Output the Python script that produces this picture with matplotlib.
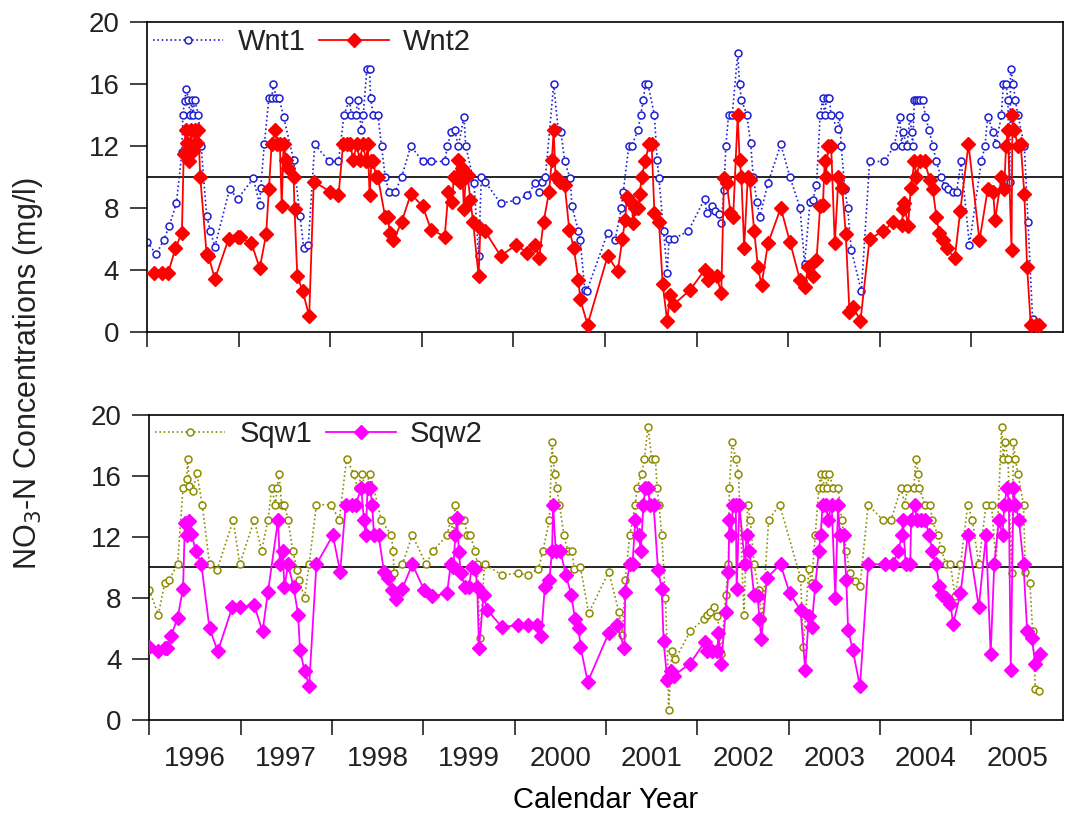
import matplotlib
matplotlib.use("Agg")
import matplotlib.pyplot as plt
from matplotlib.ticker import FixedLocator, NullFormatter

plt.rcParams["font.family"] = ["Liberation Sans", "DejaVu Sans"]
plt.rcParams["text.color"] = "#222222"
plt.rcParams["xtick.color"] = "#222222"
plt.rcParams["ytick.color"] = "#222222"

# ==========================
# Dados
# ==========================
years = list(range(1996, 2006))

wnt1_t = [1996.00, 1996.10, 1996.18, 1996.24, 1996.32, 1996.38, 1996.39, 1996.41, 1996.43, 1996.45,
          1996.47, 1996.49, 1996.50, 1996.52, 1996.56, 1996.59, 1996.65, 1996.69, 1996.74, 1996.90,
          1996.99, 1997.16, 1997.23, 1997.24, 1997.28, 1997.33, 1997.36, 1997.38, 1997.41, 1997.44,
          1997.49, 1997.60, 1997.67, 1997.71, 1997.76, 1997.83, 1997.99, 1998.09, 1998.15, 1998.21,
          1998.23, 1998.28, 1998.30, 1998.34, 1998.36, 1998.40, 1998.43, 1998.44, 1998.47, 1998.52,
          1998.56, 1998.60, 1998.64, 1998.71, 1998.78, 1998.88, 1999.01, 1999.10, 1999.25, 1999.28,
          1999.32, 1999.36, 1999.40, 1999.46, 1999.48, 1999.57, 1999.62, 1999.65, 1999.69, 1999.86,
          2000.03, 2000.15, 2000.24, 2000.28, 2000.31, 2000.35, 2000.44, 2000.49, 2000.52, 2000.56,
          2000.62, 2000.64, 2000.71, 2000.73, 2000.78, 2000.80, 2001.03, 2001.11, 2001.18, 2001.20,
          2001.26, 2001.29, 2001.36, 2001.39, 2001.42, 2001.44, 2001.47, 2001.54, 2001.57, 2001.59,
          2001.64, 2001.68, 2001.70, 2001.75, 2001.91, 2002.09, 2002.11, 2002.17, 2002.20, 2002.24,
          2002.27, 2002.30, 2002.32, 2002.35, 2002.39, 2002.45, 2002.47, 2002.49, 2002.55, 2002.59,
          2002.62, 2002.66, 2002.69, 2002.78, 2002.92, 2003.02, 2003.13, 2003.18, 2003.24, 2003.27,
          2003.31, 2003.35, 2003.38, 2003.40, 2003.42, 2003.45, 2003.47, 2003.54, 2003.56, 2003.58,
          2003.62, 2003.65, 2003.69, 2003.80, 2003.89, 2004.05, 2004.16, 2004.22, 2004.24, 2004.25,
          2004.30, 2004.33, 2004.35, 2004.36, 2004.38, 2004.40, 2004.42, 2004.44, 2004.47, 2004.50,
          2004.54, 2004.58, 2004.62, 2004.67, 2004.71, 2004.75, 2004.80, 2004.84, 2004.89, 2004.98,
          2005.11, 2005.15, 2005.18, 2005.24, 2005.27, 2005.33, 2005.35, 2005.38, 2005.40, 2005.42,
          2005.43, 2005.46, 2005.48, 2005.51, 2005.58, 2005.62, 2005.67]
wnt1_v = [5.8, 5.0, 5.9, 6.8, 8.3, 11.6, 14.0, 14.9, 15.7, 15.0,
          14.0, 15.0, 14.0, 15.0, 14.0, 12.0, 7.5, 6.5, 5.5, 9.2,
          8.6, 9.9, 8.2, 9.3, 12.1, 15.1, 15.1, 16.0, 15.1, 15.1,
          13.9, 11.1, 7.5, 5.4, 5.6, 12.1, 11.0, 11.0, 14.0, 15.0,
          14.0, 14.0, 15.0, 13.0, 14.0, 17.0, 17.0, 15.1, 14.0, 14.0,
          12.0, 10.0, 9.05, 9.05, 10.0, 12.0, 11.0, 11.0, 11.0, 12.0,
          12.9, 13.0, 12.0, 13.9, 12.0, 9.6, 4.9, 10.0, 9.7, 8.3,
          8.5, 8.8, 9.6, 9.05, 9.7, 10.0, 16.0, 13.0, 12.9, 11.0,
          9.9, 8.1, 6.5, 5.9, 2.7, 2.6, 6.4, 5.9, 8.0, 9.05,
          12.0, 12.0, 13.0, 14.0, 15.0, 16.0, 16.0, 14.0, 11.1, 9.9,
          6.5, 3.8, 6.0, 6.0, 6.5, 8.6, 7.7, 8.1, 7.8, 7.6,
          7.0, 9.15, 12.0, 14.0, 14.0, 18.0, 16.0, 15.0, 14.0, 12.2,
          10.0, 8.4, 7.4, 9.6, 12.1, 10.0, 8.0, 4.4, 8.4, 8.5,
          9.5, 14.0, 15.1, 14.0, 15.1, 15.1, 14.0, 13.1, 14.0, 12.0,
          9.2, 8.0, 5.3, 2.6, 11.0, 11.0, 12.0, 13.9, 12.0, 12.9,
          12.0, 13.9, 12.9, 12.0, 15.0, 15.0, 15.0, 15.0, 15.0, 13.9,
          13.0, 12.0, 11.0, 10.0, 9.4, 9.2, 9.05, 9.05, 11.0, 5.6,
          11.0, 12.0, 13.9, 12.9, 12.1, 14.0, 16.0, 16.0, 15.0, 9.7,
          17.0, 16.0, 15.0, 14.0, 12.0, 7.1, 0.8]

wnt2_t = [1996.07, 1996.16, 1996.23, 1996.31, 1996.38, 1996.40, 1996.42, 1996.44, 1996.46, 1996.48,
          1996.50, 1996.52, 1996.54, 1996.56, 1996.58, 1996.65, 1996.67, 1996.74, 1996.89, 1996.99,
          1997.01, 1997.14, 1997.23, 1997.30, 1997.33, 1997.36, 1997.40, 1997.42, 1997.45, 1997.47,
          1997.49, 1997.52, 1997.54, 1997.60, 1997.61, 1997.64, 1997.70, 1997.77, 1997.82, 1998.00,
          1998.09, 1998.14, 1998.18, 1998.22, 1998.25, 1998.29, 1998.32, 1998.36, 1998.39, 1998.41,
          1998.43, 1998.45, 1998.47, 1998.50, 1998.52, 1998.60, 1998.63, 1998.65, 1998.69, 1998.78,
          1998.88, 1999.01, 1999.10, 1999.25, 1999.29, 1999.33, 1999.35, 1999.38, 1999.40, 1999.42,
          1999.44, 1999.46, 1999.48, 1999.50, 1999.53, 1999.56, 1999.62, 1999.64, 1999.69, 1999.86,
          2000.03, 2000.15, 2000.24, 2000.28, 2000.33, 2000.39, 2000.42, 2000.44, 2000.46, 2000.51,
          2000.56, 2000.61, 2000.66, 2000.71, 2000.73, 2000.81, 2001.03, 2001.14, 2001.19, 2001.22,
          2001.24, 2001.29, 2001.31, 2001.33, 2001.36, 2001.38, 2001.40, 2001.44, 2001.48, 2001.51,
          2001.54, 2001.59, 2001.63, 2001.68, 2001.71, 2001.75, 2001.93, 2002.09, 2002.13, 2002.16,
          2002.22, 2002.27, 2002.30, 2002.33, 2002.37, 2002.40, 2002.45, 2002.47, 2002.49, 2002.52,
          2002.56, 2002.58, 2002.63, 2002.67, 2002.71, 2002.78, 2002.92, 2003.02, 2003.13, 2003.18,
          2003.22, 2003.27, 2003.31, 2003.35, 2003.38, 2003.40, 2003.41, 2003.44, 2003.47, 2003.51,
          2003.55, 2003.59, 2003.63, 2003.67, 2003.71, 2003.79, 2003.89, 2004.04, 2004.15, 2004.24,
          2004.26, 2004.27, 2004.31, 2004.34, 2004.38, 2004.40, 2004.44, 2004.49, 2004.55, 2004.58,
          2004.62, 2004.65, 2004.69, 2004.73, 2004.82, 2004.88, 2004.97, 2005.09, 2005.18, 2005.24,
          2005.26, 2005.33, 2005.36, 2005.38, 2005.40, 2005.44, 2005.45, 2005.47, 2005.51, 2005.54,
          2005.58, 2005.61, 2005.65, 2005.71, 2005.74]
wnt2_v = [3.8, 3.8, 3.8, 5.4, 6.4, 11.5, 13.0, 12.2, 11.0, 13.0,
          11.7, 13.0, 12.2, 13.0, 10.0, 5.0, 4.9, 3.4, 6.0, 6.15,
          6.1, 5.7, 4.1, 6.3, 9.2, 12.1, 13.0, 12.1, 12.1, 8.1,
          12.1, 11.1, 10.6, 10.0, 7.9, 3.6, 2.6, 1.0, 9.7, 9.05,
          8.8, 12.1, 12.1, 12.1, 11.1, 12.1, 11.1, 12.1, 11.0, 12.1,
          8.8, 11.0, 11.0, 10.0, 10.0, 7.4, 7.4, 6.4, 5.9, 7.1,
          8.9, 8.1, 6.6, 6.15, 9.0, 8.4, 10.0, 10.0, 11.1, 9.7,
          10.6, 7.9, 10.0, 10.1, 8.5, 7.1, 3.6, 6.7, 6.5, 4.9,
          5.6, 5.1, 5.6, 4.75, 7.1, 9.05, 11.1, 13.0, 10.0, 9.7,
          9.5, 6.6, 5.4, 3.35, 2.1, 0.45, 4.9, 3.9, 6.0, 7.2,
          8.7, 8.3, 7.0, 8.0, 8.0, 8.9, 10.0, 11.0, 12.1, 12.1,
          7.7, 7.1, 3.1, 0.67, 2.4, 1.75, 2.7, 4.0, 3.35, 3.6,
          3.6, 2.5, 9.9, 9.6, 7.7, 7.4, 14.0, 11.1, 10.0, 5.4,
          10.0, 9.8, 6.5, 4.2, 3.0, 5.7, 8.0, 5.8, 3.35, 2.9,
          4.2, 3.6, 4.6, 8.1, 8.2, 11.0, 10.0, 12.0, 12.0, 5.7,
          10.0, 9.3, 6.3, 1.3, 1.6, 0.7, 6.0, 6.5, 7.1, 6.9,
          7.9, 8.3, 6.8, 9.3, 11.0, 10.0, 11.0, 11.0, 9.8, 9.2,
          7.4, 6.4, 5.9, 5.4, 4.75, 7.8, 12.1, 5.9, 9.2, 9.05,
          7.2, 10.0, 9.2, 12.0, 13.0, 5.3, 14.0, 13.0, 12.0, 12.1,
          8.9, 4.2, 0.45, 0.45, 0.45]

sqw1_t = [1996.00, 1996.10, 1996.17, 1996.22, 1996.31, 1996.37, 1996.41, 1996.42, 1996.44, 1996.48,
          1996.52, 1996.58, 1996.66, 1996.74, 1996.92, 1996.99, 1997.15, 1997.23, 1997.30, 1997.34,
          1997.38, 1997.40, 1997.42, 1997.45, 1997.48, 1997.52, 1997.57, 1997.62, 1997.64, 1997.70,
          1997.75, 1997.83, 1997.99, 1998.08, 1998.16, 1998.24, 1998.28, 1998.33, 1998.36, 1998.42,
          1998.54, 1998.65, 1998.67, 1998.68, 1998.77, 1998.88, 1999.03, 1999.11, 1999.26, 1999.30,
          1999.33, 1999.35, 1999.40, 1999.45, 1999.48, 1999.51, 1999.57, 1999.59, 1999.62, 1999.67,
          1999.86, 2000.04, 2000.15, 2000.26, 2000.31, 2000.38, 2000.41, 2000.42, 2000.44, 2000.46,
          2000.49, 2000.54, 2000.58, 2000.63, 2000.65, 2000.72, 2000.81, 2001.03, 2001.14, 2001.18,
          2001.21, 2001.26, 2001.32, 2001.34, 2001.39, 2001.42, 2001.46, 2001.50, 2001.54, 2001.56,
          2001.58, 2001.61, 2001.65, 2001.68, 2001.685, 2001.72, 2001.76, 2001.92, 2002.07, 2002.11,
          2002.14, 2002.18, 2002.22, 2002.24, 2002.26, 2002.31, 2002.34, 2002.35, 2002.38, 2002.42,
          2002.45, 2002.51, 2002.55, 2002.58, 2002.62, 2002.67, 2002.71, 2002.78, 2002.90, 2003.13,
          2003.16, 2003.22, 2003.25, 2003.29, 2003.33, 2003.35, 2003.37, 2003.40, 2003.42, 2003.44,
          2003.49, 2003.54, 2003.58, 2003.63, 2003.67, 2003.72, 2003.78, 2003.87, 2004.03, 2004.12,
          2004.23, 2004.27, 2004.30, 2004.37, 2004.39, 2004.42, 2004.43, 2004.49, 2004.55, 2004.57,
          2004.63, 2004.67, 2004.72, 2004.77, 2004.82, 2004.88, 2004.96, 2005.01, 2005.08, 2005.16,
          2005.22, 2005.27, 2005.33, 2005.35, 2005.37, 2005.40, 2005.44, 2005.46, 2005.48, 2005.51,
          2005.57, 2005.59, 2005.64, 2005.67, 2005.70, 2005.74]
sqw1_v = [8.5, 6.9, 9.0, 9.2, 10.2, 15.2, 15.8, 17.1, 15.3, 15.0,
          16.2, 14.1, 10.2, 9.8, 13.1, 10.2, 13.1, 11.1, 13.1, 15.2,
          14.1, 15.2, 16.1, 14.1, 14.1, 13.1, 11.1, 9.8, 9.2, 8.0,
          10.2, 14.1, 14.1, 13.1, 17.1, 16.1, 15.2, 16.1, 15.2, 16.1,
          13.1, 12.1, 11.1, 9.6, 10.2, 12.1, 10.2, 11.1, 12.1, 13.1,
          12.2, 14.1, 13.1, 13.1, 12.1, 12.1, 11.1, 10.2, 5.35, 10.2,
          9.5, 9.6, 9.5, 9.9, 11.1, 13.1, 18.2, 17.1, 16.1, 15.2,
          14.1, 12.1, 11.1, 11.1, 9.9, 10.0, 7.0, 9.7, 7.1, 5.6,
          9.2, 12.1, 14.1, 15.2, 16.1, 17.1, 19.2, 17.1, 17.1, 15.2,
          14.1, 12.1, 8.0, 2.9, 0.65, 4.5, 4.0, 5.8, 6.6, 6.9,
          7.1, 7.4, 6.8, 5.8, 4.3, 8.2, 10.2, 15.2, 18.2, 17.1,
          16.1, 6.9, 14.1, 13.1, 10.2, 8.5, 6.6, 13.1, 14.1, 9.3,
          4.8, 9.9, 9.0, 12.1, 15.2, 16.1, 15.2, 16.1, 15.2, 16.1,
          15.2, 15.2, 13.1, 11.1, 9.6, 9.1, 8.8, 14.1, 13.1, 13.1,
          15.2, 14.1, 15.2, 15.2, 17.1, 16.1, 15.2, 14.1, 14.1, 13.1,
          12.1, 11.2, 10.2, 10.2, 8.1, 10.2, 14.1, 13.1, 10.2, 14.1,
          14.1, 10.2, 19.2, 17.1, 18.2, 17.1, 9.6, 18.2, 17.1, 16.1,
          14.1, 9.7, 9.0, 5.8, 2.0, 1.9]

sqw2_t = [1996.00, 1996.10, 1996.17, 1996.19, 1996.24, 1996.31, 1996.37, 1996.39, 1996.41, 1996.43,
          1996.46, 1996.51, 1996.57, 1996.66, 1996.75, 1996.91, 1996.99, 1997.15, 1997.24, 1997.30,
          1997.41, 1997.43, 1997.46, 1997.48, 1997.52, 1997.58, 1997.63, 1997.65, 1997.70, 1997.75,
          1997.83, 1998.01, 1998.09, 1998.15, 1998.22, 1998.26, 1998.32, 1998.35, 1998.37, 1998.39,
          1998.42, 1998.44, 1998.46, 1998.51, 1998.57, 1998.61, 1998.66, 1998.70, 1998.77, 1998.88,
          1999.01, 1999.10, 1999.26, 1999.30, 1999.33, 1999.35, 1999.37, 1999.39, 1999.41, 1999.46,
          1999.50, 1999.53, 1999.57, 1999.59, 1999.61, 1999.66, 1999.70, 1999.86, 2000.04, 2000.15,
          2000.24, 2000.29, 2000.33, 2000.38, 2000.41, 2000.42, 2000.45, 2000.50, 2000.56, 2000.62,
          2000.66, 2000.70, 2000.72, 2000.80, 2001.03, 2001.12, 2001.20, 2001.21, 2001.26, 2001.29,
          2001.32, 2001.36, 2001.38, 2001.41, 2001.43, 2001.46, 2001.48, 2001.52, 2001.57, 2001.61,
          2001.63, 2001.67, 2001.69, 2001.71, 2001.74, 2001.92, 2002.08, 2002.11, 2002.16, 2002.22,
          2002.23, 2002.26, 2002.31, 2002.34, 2002.35, 2002.37, 2002.39, 2002.42, 2002.43, 2002.46,
          2002.52, 2002.54, 2002.57, 2002.62, 2002.66, 2002.68, 2002.70, 2002.76, 2002.91, 2003.01,
          2003.13, 2003.18, 2003.22, 2003.25, 2003.29, 2003.33, 2003.35, 2003.37, 2003.41, 2003.43,
          2003.47, 2003.51, 2003.54, 2003.56, 2003.60, 2003.63, 2003.65, 2003.70, 2003.78, 2003.87,
          2004.05, 2004.14, 2004.20, 2004.24, 2004.25, 2004.28, 2004.33, 2004.34, 2004.38, 2004.40,
          2004.45, 2004.49, 2004.54, 2004.57, 2004.61, 2004.65, 2004.68, 2004.72, 2004.77, 2004.80,
          2004.88, 2004.96, 2005.08, 2005.16, 2005.21, 2005.25, 2005.30, 2005.34, 2005.36, 2005.39,
          2005.41, 2005.43, 2005.46, 2005.48, 2005.52, 2005.57, 2005.61, 2005.66, 2005.70, 2005.75]
sqw2_v = [4.8, 4.5, 4.7, 4.7, 5.5, 6.7, 8.6, 12.9, 12.1, 13.0,
          12.2, 11.1, 10.2, 6.0, 4.5, 7.4, 7.4, 7.5, 5.8, 8.4,
          13.1, 10.2, 11.1, 8.7, 10.2, 8.7, 6.9, 4.6, 3.2, 2.25,
          10.2, 12.1, 9.7, 14.1, 14.1, 14.1, 15.2, 13.1, 12.1, 15.2,
          15.2, 14.1, 12.1, 12.1, 9.7, 9.3, 8.5, 7.9, 8.6, 10.2,
          8.5, 8.1, 8.3, 10.2, 10.0, 12.1, 13.2, 11.0, 9.6, 8.7,
          8.7, 10.0, 9.9, 8.7, 4.7, 8.2, 7.2, 6.1, 6.2, 6.2,
          6.2, 5.5, 8.7, 9.2, 11.1, 14.1, 11.1, 11.1, 9.5, 8.2,
          6.6, 6.0, 4.8, 2.5, 5.7, 6.2, 4.7, 8.4, 10.2, 10.2,
          13.1, 12.1, 11.1, 14.1, 15.2, 15.2, 14.1, 14.1, 9.8, 8.6,
          5.2, 2.6, 2.8, 3.2, 2.9, 3.7, 5.1, 4.5, 4.5, 4.5,
          5.7, 3.7, 7.1, 9.7, 13.1, 12.1, 14.1, 14.1, 8.6, 14.1,
          10.2, 12.1, 11.1, 8.2, 8.1, 6.6, 5.3, 9.3, 10.2, 8.3,
          7.2, 3.3, 6.8, 6.1, 8.8, 11.1, 12.1, 14.1, 14.1, 13.1,
          14.1, 8.0, 14.1, 12.1, 12.1, 9.2, 5.9, 4.6, 2.2, 10.2,
          10.2, 10.2, 11.1, 12.1, 13.1, 10.2, 10.2, 13.1, 14.1, 13.1,
          13.1, 13.1, 12.1, 11.1, 10.2, 8.8, 8.2, 8.0, 7.6, 6.3,
          8.3, 12.1, 7.4, 12.1, 4.3, 10.2, 13.1, 12.1, 14.1, 15.2,
          14.1, 3.3, 15.2, 14.1, 13.1, 10.2, 5.8, 5.35, 3.7, 4.3]

y_ticks = [0, 4, 8, 12, 16, 20]
limit_value = 10


# ==========================
# Formatar um painel
# ==========================
def style_panel(ax, show_years):
    ax.set_xlim(1996, 2006)
    ax.set_ylim(0, 20)
    ax.set_yticks(y_ticks)
    ax.xaxis.set_major_locator(FixedLocator(years))
    ax.xaxis.set_major_formatter(NullFormatter())
    ax.tick_params(axis="x", which="major", direction="out", length=11, width=1.2)
    ax.tick_params(axis="y", direction="out", length=12, width=1.2, labelsize=20, pad=8)
    if show_years:
        ax.xaxis.set_minor_locator(FixedLocator([y + 0.5 for y in years]))
        ax.set_xticklabels([str(y) for y in years], minor=True)
        ax.tick_params(axis="x", which="minor", length=0, labelsize=20, pad=19)
    for s in ax.spines.values():
        s.set_linewidth(1.2)
    ax.axhline(limit_value, color="black", lw=1.2, zorder=1)


def add_legend(ax):
    ax.legend(loc="upper left", ncol=2, frameon=False, fontsize=21,
              handlelength=2.4, columnspacing=0.45, handletextpad=0.5,
              borderaxespad=0.0, borderpad=0.2, bbox_to_anchor=(0.0, 1.0))


# ==========================
# Gráfico principal
# ==========================
def main():
    fig = plt.figure(figsize=(10.66, 8.21), dpi=100)
    ax1 = fig.add_axes([0.138, 0.596, 0.859, 0.377])
    ax2 = fig.add_axes([0.140, 0.123, 0.857, 0.372])

    ax1.plot(wnt1_t, wnt1_v, color="#1f1fd0", ls=(0, (1, 1.6)), lw=1.2,
             marker="o", ms=5, mfc="white", mec="#1f1fd0", mew=1.1, label="Wnt1", zorder=2)
    ax1.plot(wnt2_t, wnt2_v, color="#ff0000", ls="-", lw=1.3,
             marker="D", ms=7, mfc="#ff0000", mec="#ff0000", label="Wnt2", zorder=3)
    style_panel(ax1, False)
    add_legend(ax1)

    ax2.plot(sqw1_t, sqw1_v, color="#8c8c00", ls=(0, (1, 1.6)), lw=1.2,
             marker="o", ms=5, mfc="white", mec="#8c8c00", mew=1.1, label="Sqw1", zorder=2)
    ax2.plot(sqw2_t, sqw2_v, color="#ff00ff", ls="-", lw=1.3,
             marker="D", ms=7, mfc="#ff00ff", mec="#ff00ff", label="Sqw2", zorder=3)
    style_panel(ax2, True)
    add_legend(ax2)

    ax2.set_xlabel("Calendar Year", fontsize=21, labelpad=10)
    fig.text(0.026, 0.545, "NO$_3$-N Concentrations (mg/l)", rotation=90,
             fontsize=22, ha="center", va="center")

    fig.savefig("out.png", dpi=100)


if __name__ == "__main__":
    main()
